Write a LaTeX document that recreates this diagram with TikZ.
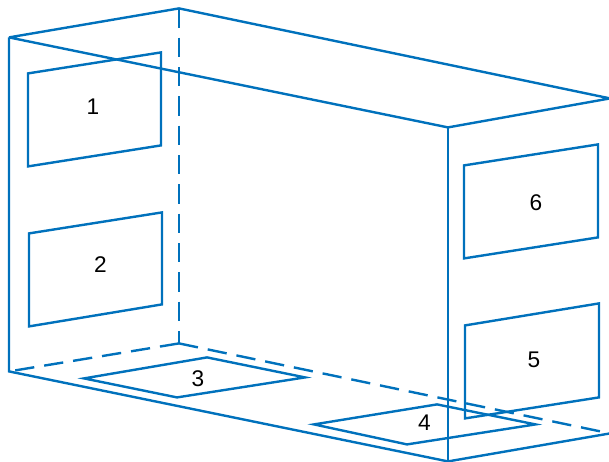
\documentclass[tikz,border=0pt]{standalone}
\usepackage{fontspec}
\setmainfont{Liberation Sans}
\definecolor{boxblue}{HTML}{0071BC}
\tikzset{
  edge/.style={draw=boxblue,line width=1.8pt,line join=miter},
  frame/.style={edge,line join=bevel},
  hidden/.style={edge,dash pattern=on 14.5pt off 7.5pt},
  lbl/.style={inner sep=0pt,font=\fontsize{17}{19}\selectfont,text=black}
}
\begin{document}
\begin{tikzpicture}[x=0.75pt,y=-0.75pt]
\useasboundingbox (0,0) rectangle (609,461);
% box corners
\coordinate (A) at (9,37.4);
\coordinate (B) at (179,8.4);
\coordinate (C) at (610,98.4);
\coordinate (D) at (448,127.4);
\coordinate (E) at (9,371.4);
\coordinate (F) at (179,343.4);
\coordinate (G) at (610,433.4);
\coordinate (H) at (448,461.4);
% hidden edges
\draw[hidden] (B) -- (F);
\draw[hidden] (F) -- (E);
\draw[hidden] (F) -- (G);
% visible edges
\draw[frame] (A) -- (B) -- (C) -- (D) -- cycle;
\draw[edge] (A) -- (E) -- (H) -- (G);
\draw[edge] (D) -- (H);
% panels
\draw[edge] (28,73.4) -- (161,52.4) -- (161,145.4) -- (28,166.4) -- cycle;
\draw[edge] (29,233.4) -- (162,212.4) -- (162,304.4) -- (29,326.4) -- cycle;
\draw[edge] (84,378.4) -- (207,357.4) -- (305,377.4) -- (177,397.4) -- cycle;
\draw[edge] (314,424.4) -- (437,404.4) -- (535.5,424.4) -- (407,444.4) -- cycle;
\draw[edge] (465,325.4) -- (599,303.4) -- (599,397.4) -- (465,418.4) -- cycle;
\draw[edge] (464,165.4) -- (598,144.4) -- (598,237.4) -- (464,258.4) -- cycle;
% labels
\node[lbl] (n1) at (93,107) {1};
\node[lbl] (n2) at (100.5,265) {2};
\node[lbl] (n3) at (198,379) {3};
\node[lbl] (n4) at (424.5,423) {4};
\node[lbl] (n5) at (534,360) {5};
\node[lbl] (n6) at (536,203) {6};
\end{tikzpicture}
\end{document}
